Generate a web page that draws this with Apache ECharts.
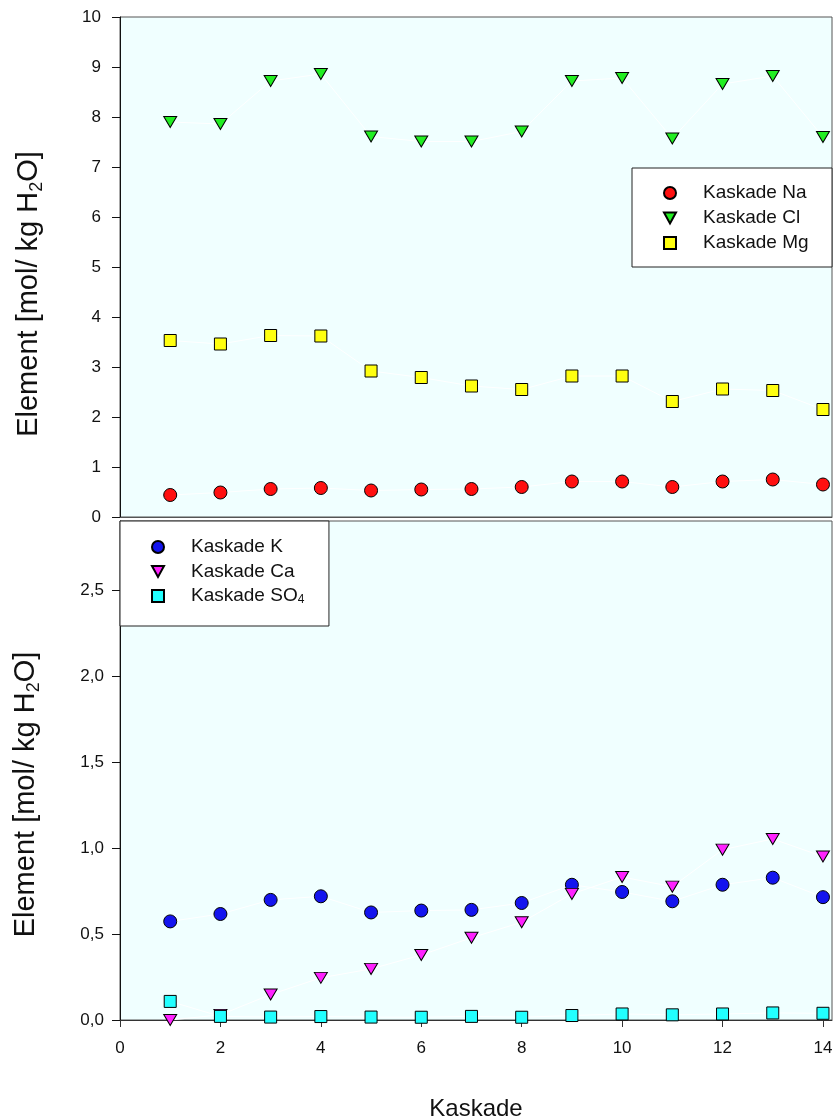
<!DOCTYPE html>
<html>
<head>
<meta charset="utf-8">
<script src="https://cdn.jsdelivr.net/npm/echarts@6/dist/echarts.min.js"></script>
<style>
html,body{margin:0;padding:0;background:#fff;}
#c{width:835px;height:1117px;}
</style>
</head>
<body>
<div id="c"></div>
<script>
// ---- data ----
const kaskade = [1,2,3,4,5,6,7,8,9,10,11,12,13,14];
const na  = [0.44,0.49,0.56,0.58,0.53,0.55,0.56,0.60,0.71,0.71,0.60,0.71,0.75,0.65];
const cl  = [7.90,7.86,8.72,8.86,7.61,7.51,7.51,7.71,8.72,8.78,7.57,8.66,8.82,7.60];
const mg  = [3.53,3.46,3.63,3.62,2.92,2.79,2.62,2.55,2.82,2.82,2.31,2.56,2.53,2.15];
const k   = [0.573,0.616,0.698,0.719,0.625,0.636,0.640,0.680,0.786,0.744,0.690,0.786,0.827,0.714];
const ca  = [0.000,0.030,0.148,0.245,0.297,0.378,0.478,0.568,0.733,0.831,0.775,0.990,1.052,0.950];
const so4 = [0.108,0.021,0.017,0.020,0.017,0.016,0.021,0.016,0.026,0.035,0.030,0.035,0.041,0.039];
const xTicks = [0,2,4,6,8,10,12,14];
const topNames = ['Kaskade Na','Kaskade Cl','Kaskade Mg'];
const botNames = ['Kaskade K','Kaskade Ca','Kaskade SO4'];

const pair = (ys) => kaskade.map((x,i)=>[x, ys[i]]);
const TRI = 'path://M0,0L10,0L5,9Z';
const FONT = 'Liberation Sans, Arial, sans-serif';
const XMAX = 14.18;

function mk(name, data, idx, symbol, size, color){
  return {
    name, type:'line', xAxisIndex:idx, yAxisIndex:idx, data: pair(data),
    symbol, symbolSize:size, showSymbol:true,
    lineStyle:{color:'#ffffff', width:1},
    itemStyle:{color, borderColor:'#000', borderWidth:1},
    emphasis:{disabled:true}, animation:false, z: 3
  };
}

const yTitleText = '{a|Element [mol/ kg H}{s|2}{a|O]}';
function nameStyle(shift){
  return {
    color:'#111', fontFamily:FONT, padding:[0,shift,0,0],
    rich:{
      a:{fontSize:29, fontFamily:FONT, color:'#111', lineHeight:34},
      s:{fontSize:18, fontFamily:FONT, color:'#111', lineHeight:18, verticalAlign:'bottom'}
    }
  };
}
const labelStyle = {color:'#111', fontSize:17, fontFamily:FONT};

const chart = echarts.init(document.getElementById('c'), null, {renderer:'canvas'});
chart.setOption({
  animation:false,
  backgroundColor:'#ffffff',
  grid:[
    {left:120, right:3, top:17, height:500, show:true, backgroundColor:'#F0FFFF', borderColor:'#555', borderWidth:1, outerBoundsMode:'none', containLabel:false},
    {left:120, right:3, top:521, height:499, show:true, backgroundColor:'#F0FFFF', borderColor:'#555', borderWidth:1, outerBoundsMode:'none', containLabel:false}
  ],
  xAxis:[
    {type:'value', gridIndex:0, min:0, max:XMAX,
     axisLine:{show:true, onZero:false, lineStyle:{color:'#555', width:1}},
     axisTick:{show:false}, axisLabel:{show:false}, splitLine:{show:false}},
    {type:'value', gridIndex:1, min:0, max:XMAX,
     axisLine:{show:true, onZero:false, lineStyle:{color:'#333', width:1}},
     axisTick:{show:true, length:7, customValues:xTicks, lineStyle:{color:'#333'}},
     axisLabel:Object.assign({margin:20, customValues:xTicks}, labelStyle),
     splitLine:{show:false},
     name:'Kaskade', nameLocation:'middle', nameGap:77,
     nameTextStyle:{fontSize:24, fontFamily:FONT, color:'#111'}}
  ],
  yAxis:[
    {type:'value', gridIndex:0, min:0, max:10, interval:1,
     axisLine:{show:true, onZero:false, lineStyle:{color:'#111', width:1}},
     axisTick:{show:true, length:8, lineStyle:{color:'#111'}},
     axisLabel:Object.assign({margin:19}, labelStyle),
     splitLine:{show:false},
     name:yTitleText, nameLocation:'middle', nameRotate:90, nameGap:74,
     nameTextStyle:nameStyle(54)},
    {type:'value', gridIndex:1, min:0, max:2.9, interval:0.5,
     axisLine:{show:true, onZero:false, lineStyle:{color:'#111', width:1}},
     axisTick:{show:true, length:8, lineStyle:{color:'#111'}},
     axisLabel:Object.assign({margin:16, showMaxLabel:false, formatter:(v)=>v.toFixed(1).replace('.',',')}, labelStyle),
     splitLine:{show:false},
     name:yTitleText, nameLocation:'middle', nameRotate:90, nameGap:77,
     nameTextStyle:nameStyle(48)}
  ],
  legend:[
    {data:topNames.map((n,i)=>({name:n, icon:['circle',TRI,'rect'][i]})),
     orient:'vertical', left:632, top:168, itemWidth:12, itemHeight:12, itemGap:6,
     padding:[15.5,23.4,14.5,31], backgroundColor:'#fff', borderColor:'#222', borderWidth:1,
     selectedMode:false,
     textStyle:{fontSize:19, fontFamily:FONT, color:'#111', lineHeight:19, padding:[0,0,0,22]}},
    {data:botNames.map((n,i)=>({name:n, icon:['circle',TRI,'rect'][i]})),
     orient:'vertical', left:120, top:521, itemWidth:12, itemHeight:12, itemGap:5.5,
     padding:[16.5,24.6,20.5,31], backgroundColor:'#fff', borderColor:'#222', borderWidth:1,
     selectedMode:false,
     formatter:(n)=> n==='Kaskade SO4' ? '{a|Kaskade SO}{s|4}' : '{a|'+n+'}',
     textStyle:{fontSize:19, fontFamily:FONT, color:'#111', lineHeight:19, padding:[0,0,0,22],
       rich:{a:{fontSize:19, fontFamily:FONT, color:'#111', lineHeight:19},
             s:{fontSize:12, fontFamily:FONT, color:'#111', lineHeight:12, verticalAlign:'bottom'}}}}
  ],
  series:[
    mk(topNames[0], na, 0, 'circle', 13, '#ff1010'),
    mk(topNames[1], cl, 0, TRI, [13,11], '#22ee22'),
    mk(topNames[2], mg, 0, 'rect', 12, '#ffff10'),
    mk(botNames[0], k, 1, 'circle', 13, '#1414ee'),
    mk(botNames[1], ca, 1, TRI, [13,11], '#ff22ff'),
    mk(botNames[2], so4, 1, 'rect', 12, '#22ffff')
  ]
});
</script>
</body>
</html>
